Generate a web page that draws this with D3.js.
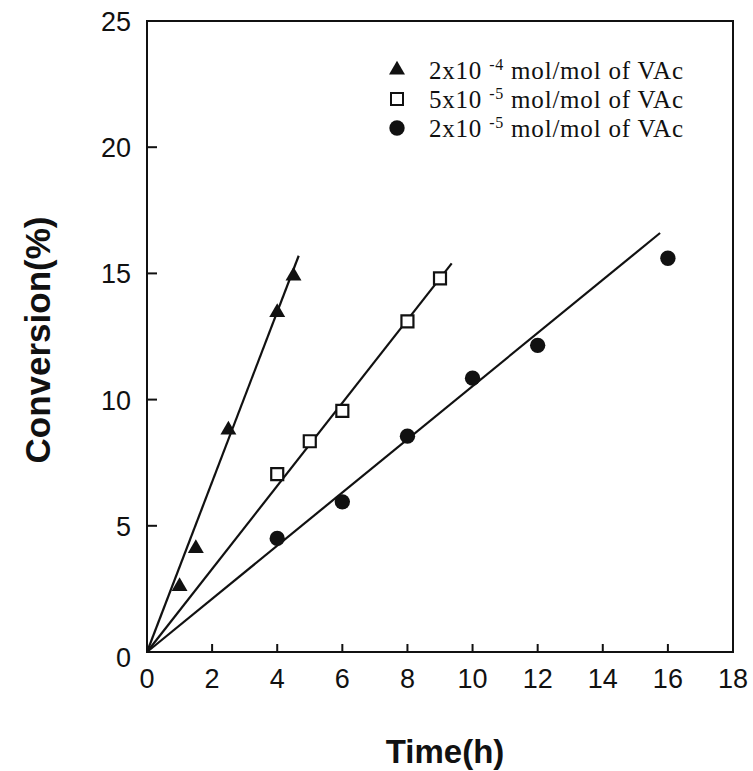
<!DOCTYPE html>
<html>
<head>
<meta charset="utf-8">
<script src="https://cdn.jsdelivr.net/npm/d3@7"></script>
<style>
  body { margin: 0; background: #fff; }
  .tick-label { font-family: "Liberation Sans", Arial, sans-serif; font-size: 27px; fill: #111; }
  .axis-title { font-family: "Liberation Sans", Arial, sans-serif; font-weight: bold; fill: #111; }
  .legend-text { font-family: "Liberation Serif", "Times New Roman", serif; font-size: 25px; fill: #111; }
</style>
</head>
<body>
<div id="chart"></div>
<script>
// data
let triX = [1, 1.5, 2.5, 4, 4.5];
let triY = [2.6, 4.1, 8.8, 13.45, 14.9];
let sqX = [4, 5, 6, 8, 9];
let sqY = [7.05, 8.35, 9.55, 13.1, 14.8];
let circX = [4, 6, 8, 10, 12, 16];
let circY = [4.5, 5.95, 8.55, 10.85, 12.15, 15.6];

// fitted lines through the origin, end points
let fitEndX = [4.66, 9.36, 15.76];
let fitEndY = [15.7, 15.4, 16.6];

let xTicks = [0, 2, 4, 6, 8, 10, 12, 14, 16, 18];
let yTicks = [0, 5, 10, 15, 20, 25];

let legendBase = ["2x10", "5x10", "2x10"];
let legendExp = ["-4", "-5", "-5"];
let legendRest = ["mol/mol of VAc", "mol/mol of VAc", "mol/mol of VAc"];

let width = 753, height = 771;
let svg = d3.select("#chart").append("svg")
    .attr("width", width)
    .attr("height", height);

let x = d3.scaleLinear().domain([0, 18]).range([147, 733]);
let y = d3.scaleLinear().domain([0, 25]).range([652, 21]);

// frame
svg.append("rect")
    .attr("x", x(0)).attr("y", y(25))
    .attr("width", x(18) - x(0)).attr("height", y(0) - y(25))
    .attr("fill", "none").attr("stroke", "#111").attr("stroke-width", 2);

// inward ticks
svg.selectAll(".xtick").data(xTicks.slice(1, -1)).enter().append("line")
    .attr("x1", d => x(d)).attr("x2", d => x(d))
    .attr("y1", y(0)).attr("y2", y(0) - 8)
    .attr("stroke", "#111").attr("stroke-width", 2);
svg.selectAll(".ytick").data(yTicks.slice(1, -1)).enter().append("line")
    .attr("x1", x(0)).attr("x2", x(0) + 10)
    .attr("y1", d => y(d)).attr("y2", d => y(d))
    .attr("stroke", "#111").attr("stroke-width", 2);

svg.selectAll(".xlab").data(xTicks).enter().append("text")
    .attr("class", "tick-label")
    .attr("x", d => x(d)).attr("y", y(0) + 36)
    .attr("text-anchor", "middle")
    .text(d => d);
svg.selectAll(".ylab").data(yTicks).enter().append("text")
    .attr("class", "tick-label")
    .attr("x", x(0) - 16).attr("y", d => y(d) + 10 + (d == 0 ? 5 : 0))
    .attr("text-anchor", "end")
    .text(d => d);

// axis titles
svg.append("text").attr("class", "axis-title")
    .attr("x", 445).attr("y", 763)
    .attr("text-anchor", "middle")
    .style("font-size", "33px")
    .text("Time(h)");
svg.append("text").attr("class", "axis-title")
    .attr("transform", "translate(50,340) rotate(-90)")
    .attr("text-anchor", "middle")
    .style("font-size", "35px")
    .text("Conversion(%)");

// fit lines
svg.selectAll(".fit").data(fitEndX).enter().append("line")
    .attr("x1", x(0)).attr("y1", y(0))
    .attr("x2", d => x(d)).attr("y2", (d, i) => y(fitEndY[i]))
    .attr("stroke", "#111").attr("stroke-width", 2.2);

let triSym = d3.symbol().type(d3.symbolTriangle).size(110);
let sqSym = d3.symbol().type(d3.symbolSquare).size(144);
let circSym = d3.symbol().type(d3.symbolCircle).size(185);

svg.selectAll(".tri").data(triX).enter().append("path")
    .attr("d", triSym)
    .attr("transform", (d, i) => `translate(${x(d)},${y(triY[i])})`)
    .attr("fill", "#111");
svg.selectAll(".sq").data(sqX).enter().append("path")
    .attr("d", sqSym)
    .attr("transform", (d, i) => `translate(${x(d)},${y(sqY[i])})`)
    .attr("fill", "#fff").attr("stroke", "#111").attr("stroke-width", 2.2);
svg.selectAll(".circ").data(circX).enter().append("path")
    .attr("d", circSym)
    .attr("transform", (d, i) => `translate(${x(d)},${y(circY[i])})`)
    .attr("fill", "#111");

// legend
let legendSyms = [triSym, sqSym, circSym];
let legend = svg.append("g");
legendBase.forEach((b, i) => {
    let ly = 70 + i * 29;
    let sym = legend.append("path")
        .attr("d", legendSyms[i])
        .attr("transform", `translate(397,${ly})`);
    if (i == 1) {
        sym.attr("fill", "#fff").attr("stroke", "#111").attr("stroke-width", 2);
    } else {
        sym.attr("fill", "#111");
    }
    let t = legend.append("text").attr("class", "legend-text")
        .attr("x", 429).attr("y", ly + 9)
        .attr("textLength", 254).attr("lengthAdjust", "spacing");
    t.append("tspan").text(b + " ");
    t.append("tspan").attr("dy", -9).style("font-size", "16px").text(legendExp[i]);
    t.append("tspan").attr("dy", 9).text(" " + legendRest[i]);
});
</script>
</body>
</html>
